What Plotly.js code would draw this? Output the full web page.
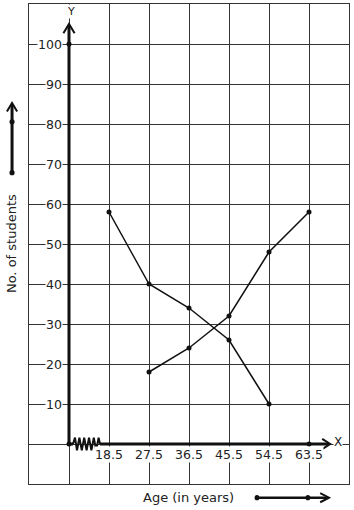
<!DOCTYPE html>
<html><head><meta charset="utf-8">
<script src="https://cdn.plot.ly/plotly-3.0.1.min.js"></script>
<style>html,body{margin:0;padding:0;background:#fff}</style>
</head><body>
<div id="chart" style="width:354px;height:510px"></div>
<script>
// Data
const ageLabels = ['18.5', '27.5', '36.5', '45.5', '54.5', '63.5'];
const ages = [18.5, 27.5, 36.5, 45.5, 54.5, 63.5];
const seriesAAges = [18.5, 27.5, 36.5, 45.5, 54.5];
const seriesAStudents = [58, 40, 34, 26, 10];
const seriesBAges = [27.5, 36.5, 45.5, 54.5, 63.5];
const seriesBStudents = [18, 24, 32, 48, 58];
const yTickValues = [10, 20, 30, 40, 50, 60, 70, 80, 90, 100];

// position on the broken x axis: origin at 0, then one grid cell per class mark
const pos = a => (a === 0 ? 0 : ages.indexOf(a) + 1);

const FONT = 'DejaVu Sans, sans-serif';
const ink = '#111';

const traces = [
  {x: seriesAAges.map(pos), y: seriesAStudents, mode: 'lines+markers', type: 'scatter',
   line: {color: ink, width: 1.5}, marker: {color: ink, size: 5}, hoverinfo: 'skip'},
  {x: seriesBAges.map(pos), y: seriesBStudents, mode: 'lines+markers', type: 'scatter',
   line: {color: ink, width: 1.5}, marker: {color: ink, size: 5}, hoverinfo: 'skip'},
  {x: [0, 0, pos(63.5)], y: [0, 100, 0], mode: 'markers', type: 'scatter',
   marker: {color: ink, size: 5}, hoverinfo: 'skip'}
];

const shapes = [
  // y axis with arrow
  {type: 'line', xref: 'x', yref: 'y', x0: 0, y0: 0, x1: 0, y1: 104.6, line: {color: ink, width: 3}},
  {type: 'path', xref: 'x', yref: 'y', path: 'M -0.14,102.7 L 0,105 L 0.14,102.7', line: {color: ink, width: 2}},
  // x axis with zigzag break and arrow
  {type: 'line', xref: 'x', yref: 'y', x0: 0, y0: 0, x1: 0.1, y1: 0, line: {color: ink, width: 3}},
  {type: 'path', xref: 'x', yref: 'y',
   path: 'M 0.1,0 L 0.15,1.6 L 0.2,-1.6 L 0.26,1.6 L 0.32,-1.6 L 0.38,1.6 L 0.44,-1.6 L 0.5,1.6 L 0.56,-1.6 L 0.62,1.6 L 0.68,-1.6 L 0.74,1.6 L 0.775,0',
   line: {color: ink, width: 2}},
  {type: 'line', xref: 'x', yref: 'y', x0: 0.775, y0: 0, x1: 6.5, y1: 0, line: {color: ink, width: 3}},
  {type: 'path', xref: 'x', yref: 'y', path: 'M 6.33,1.3 L 6.53,0 L 6.33,-1.3', line: {color: ink, width: 2}},
  // left legend arrow (vertical)
  {type: 'line', xref: 'paper', yref: 'paper', x0: -0.053, y0: 0.648, x1: -0.053, y1: 0.79, line: {color: ink, width: 3}},
  {type: 'path', xref: 'paper', yref: 'paper', path: 'M -0.069,0.776 L -0.053,0.794 L -0.037,0.776', line: {color: ink, width: 2}},
  {type: 'circle', xref: 'paper', yref: 'paper', x0: -0.061, x1: -0.045, y0: 0.643, y1: 0.654, fillcolor: ink, line: {width: 0}},
  {type: 'circle', xref: 'paper', yref: 'paper', x0: -0.061, x1: -0.045, y0: 0.749, y1: 0.76, fillcolor: ink, line: {width: 0}},
  // bottom legend arrow (horizontal)
  {type: 'line', xref: 'paper', yref: 'paper', x0: 0.7125, y0: -0.0285, x1: 0.935, y1: -0.0285, line: {color: ink, width: 2.5}},
  {type: 'path', xref: 'paper', yref: 'paper', path: 'M 0.91,-0.019 L 0.9375,-0.0285 L 0.91,-0.038', line: {color: ink, width: 2}},
  {type: 'circle', xref: 'paper', yref: 'paper', x0: 0.705, x1: 0.72, y0: -0.034, y1: -0.023, fillcolor: ink, line: {width: 0}},
  {type: 'circle', xref: 'paper', yref: 'paper', x0: 0.864, x1: 0.879, y0: -0.034, y1: -0.023, fillcolor: ink, line: {width: 0}}
];

const annotations = [];
yTickValues.forEach(v => annotations.push({
  xref: 'x', yref: 'y', x: -0.14, y: v, text: String(v), showarrow: false,
  xanchor: 'right', yanchor: 'middle', bgcolor: '#fff', borderpad: 0,
  font: {family: FONT, size: 12.5, color: '#222'}
}));
ageLabels.forEach((t, i) => annotations.push({
  xref: 'x', yref: 'y', x: pos(ages[i]), y: -2.6, text: t, showarrow: false,
  xanchor: 'center', yanchor: 'middle', bgcolor: '#fff', borderpad: 0,
  font: {family: FONT, size: 12.5, color: '#222'}
}));
annotations.push({xref: 'x', yref: 'y', x: 6.72, y: 0.4, text: 'X', showarrow: false,
  xanchor: 'center', yanchor: 'middle', bgcolor: '#fff', borderpad: 0,
  font: {family: FONT, size: 12, color: '#222'}});
annotations.push({xref: 'x', yref: 'y', x: 0.05, y: 108.2, text: 'Y', showarrow: false,
  xanchor: 'center', yanchor: 'middle', bgcolor: '#fff', borderpad: 0,
  font: {family: FONT, size: 11, color: '#222'}});
annotations.push({xref: 'paper', yref: 'paper', x: -0.056, y: 0.5, text: 'No. of students', showarrow: false,
  textangle: -90, xanchor: 'center', yanchor: 'middle',
  font: {family: FONT, size: 13, color: '#222'}});
annotations.push({xref: 'paper', yref: 'paper', x: 0.498, y: -0.0285, text: 'Age (in years)', showarrow: false,
  xanchor: 'center', yanchor: 'middle',
  font: {family: FONT, size: 13, color: '#222'}});

const layout = {
  width: 354, height: 510,
  margin: {l: 29, r: 5, t: 4, b: 26, pad: 0},
  paper_bgcolor: '#fff', plot_bgcolor: '#fff',
  showlegend: false,
  xaxis: {range: [-1, 7], tick0: -1, dtick: 1, showgrid: true, gridcolor: '#333', gridwidth: 1,
          zeroline: false, showticklabels: false, ticks: '', showline: true, mirror: true,
          linecolor: '#333', linewidth: 1, fixedrange: true},
  yaxis: {range: [-10, 110], tick0: -10, dtick: 10, showgrid: true, gridcolor: '#333', gridwidth: 1,
          zeroline: false, showticklabels: false, ticks: '', showline: true, mirror: true,
          linecolor: '#333', linewidth: 1, fixedrange: true},
  shapes: shapes,
  annotations: annotations
};

Plotly.newPlot('chart', traces, layout, {displayModeBar: false, staticPlot: true});
</script>
</body></html>
